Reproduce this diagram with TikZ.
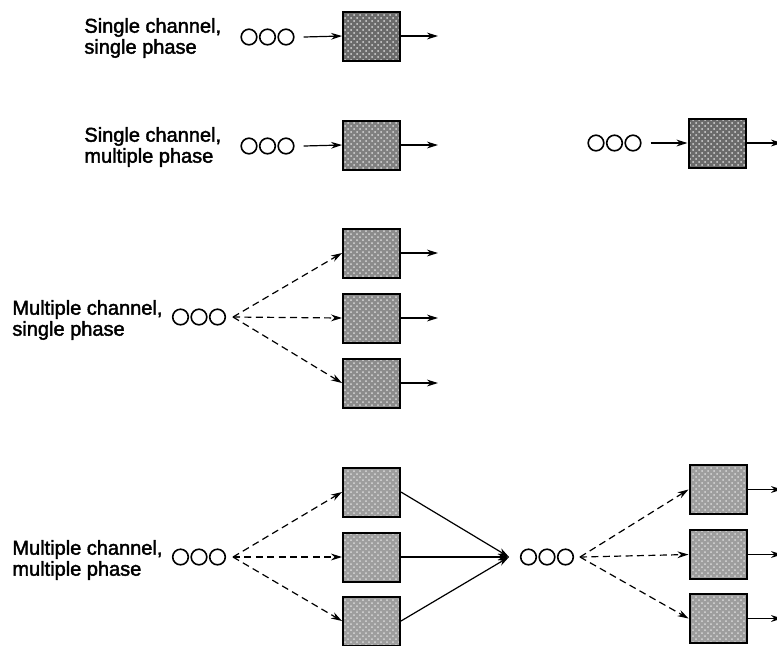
\documentclass[tikz,border=0pt]{standalone}
\usepackage{fontspec}
\setmainfont{Liberation Sans}
\usetikzlibrary{arrows.meta,patterns}

\tikzset{
  customer/.style={circle,draw,line width=0.8pt,minimum size=7.8pt,inner sep=0pt},
  server/.style={draw,line width=1pt,minimum width=28.5pt,
    minimum height=24.5pt,inner sep=0pt,
    preaction={fill=black!#1},
    preaction={pattern=crosshatch dots,pattern color=white!85!black}},
  caption/.style={anchor=west,align=left,inner sep=0pt,
    font=\fontsize{10}{10.5}\selectfont\addfontfeature{FakeBold=2}},
  flow/.style={-{Stealth[length=5.5pt,width=3.4pt]},line width=0.6pt},
  feed/.style={flow,dash pattern=on 3.5pt off 2.2pt}
}

% three waiting customers: name, x, y
\newcommand{\waitline}[3]{
  \node [customer] (#1a) at (#2,#3) {};
  \node [customer] (#1b) at (#2+18.5,#3) {};
  \node [customer] (#1c) at (#2+37,#3) {};
}

\begin{document}
\begin{tikzpicture}[x=0.5pt,y=-0.5pt]
  \clip (0,0) rectangle (777,645);
  \fill [white] (0,0) rectangle (777,645);

  % single channel, single phase
  \node [caption] (t1) at (84,38) {Single channel,\\single phase};
  \waitline{q1}{249}{37}
  \node [server=58] (s1) at (371.5,36) {};
  \coordinate (o1) at (438,36);
  \draw [flow] ([xshift=4.5pt]q1c.east) -- (s1.west);
  \draw [flow] (s1.east) -- (o1);

  % single channel, multiple phase
  \node [caption] (t2) at (84,147) {Single channel,\\multiple phase};
  \waitline{q2}{249}{146}
  \node [server=50] (s2) at (371.5,145) {};
  \coordinate (o2) at (438,145);
  \draw [flow] ([xshift=4.5pt]q2c.east) -- (s2.west);
  \draw [flow] (s2.east) -- (o2);

  \waitline{r2}{596}{143}
  \node [server=58] (u2) at (717,143) {};
  \coordinate (p2) at (782,143);
  \draw [flow] ([xshift=4.5pt]r2c.east) -- (u2.west);
  \draw [flow] (u2.east) -- (p2);

  % multiple channel, single phase
  \node [caption] (t3) at (12,320) {Multiple channel,\\single phase};
  \waitline{q3}{180.5}{317}
  \coordinate (d3) at (233,317);
  \foreach \i/\y in {a/253,b/318,c/383} {
    \node [server=45] (s3\i) at (371.5,\y) {};
    \coordinate (o3\i) at (438,\y);
    \draw [feed] (d3) -- (s3\i.west);
    \draw [flow] (s3\i.east) -- (o3\i);
  }

  % multiple channel, multiple phase
  \node [caption] (t4) at (12,560) {Multiple channel,\\multiple phase};
  \waitline{q4}{180.5}{557}
  \coordinate (d4) at (233,557);
  \coordinate (m4) at (509,557);
  \foreach \i/\y in {a/492,b/557,c/621} {
    \node [server=38] (s4\i) at (371.5,\y) {};
    \draw [feed] (d4) -- (s4\i.west);
    \draw [flow] (s4\i.east) -- (m4);
  }

  \waitline{r4}{528.5}{557}
  \coordinate (e4) at (580,557);
  \foreach \i/\y in {a/489.5,b/554.5,c/618.5} {
    \node [server=38] (u4\i) at (718,\y) {};
    \coordinate (p4\i) at (782,\y);
    \draw [feed] (e4) -- (u4\i.west);
    \draw [flow] (u4\i.east) -- (p4\i);
  }
\end{tikzpicture}
\end{document}
